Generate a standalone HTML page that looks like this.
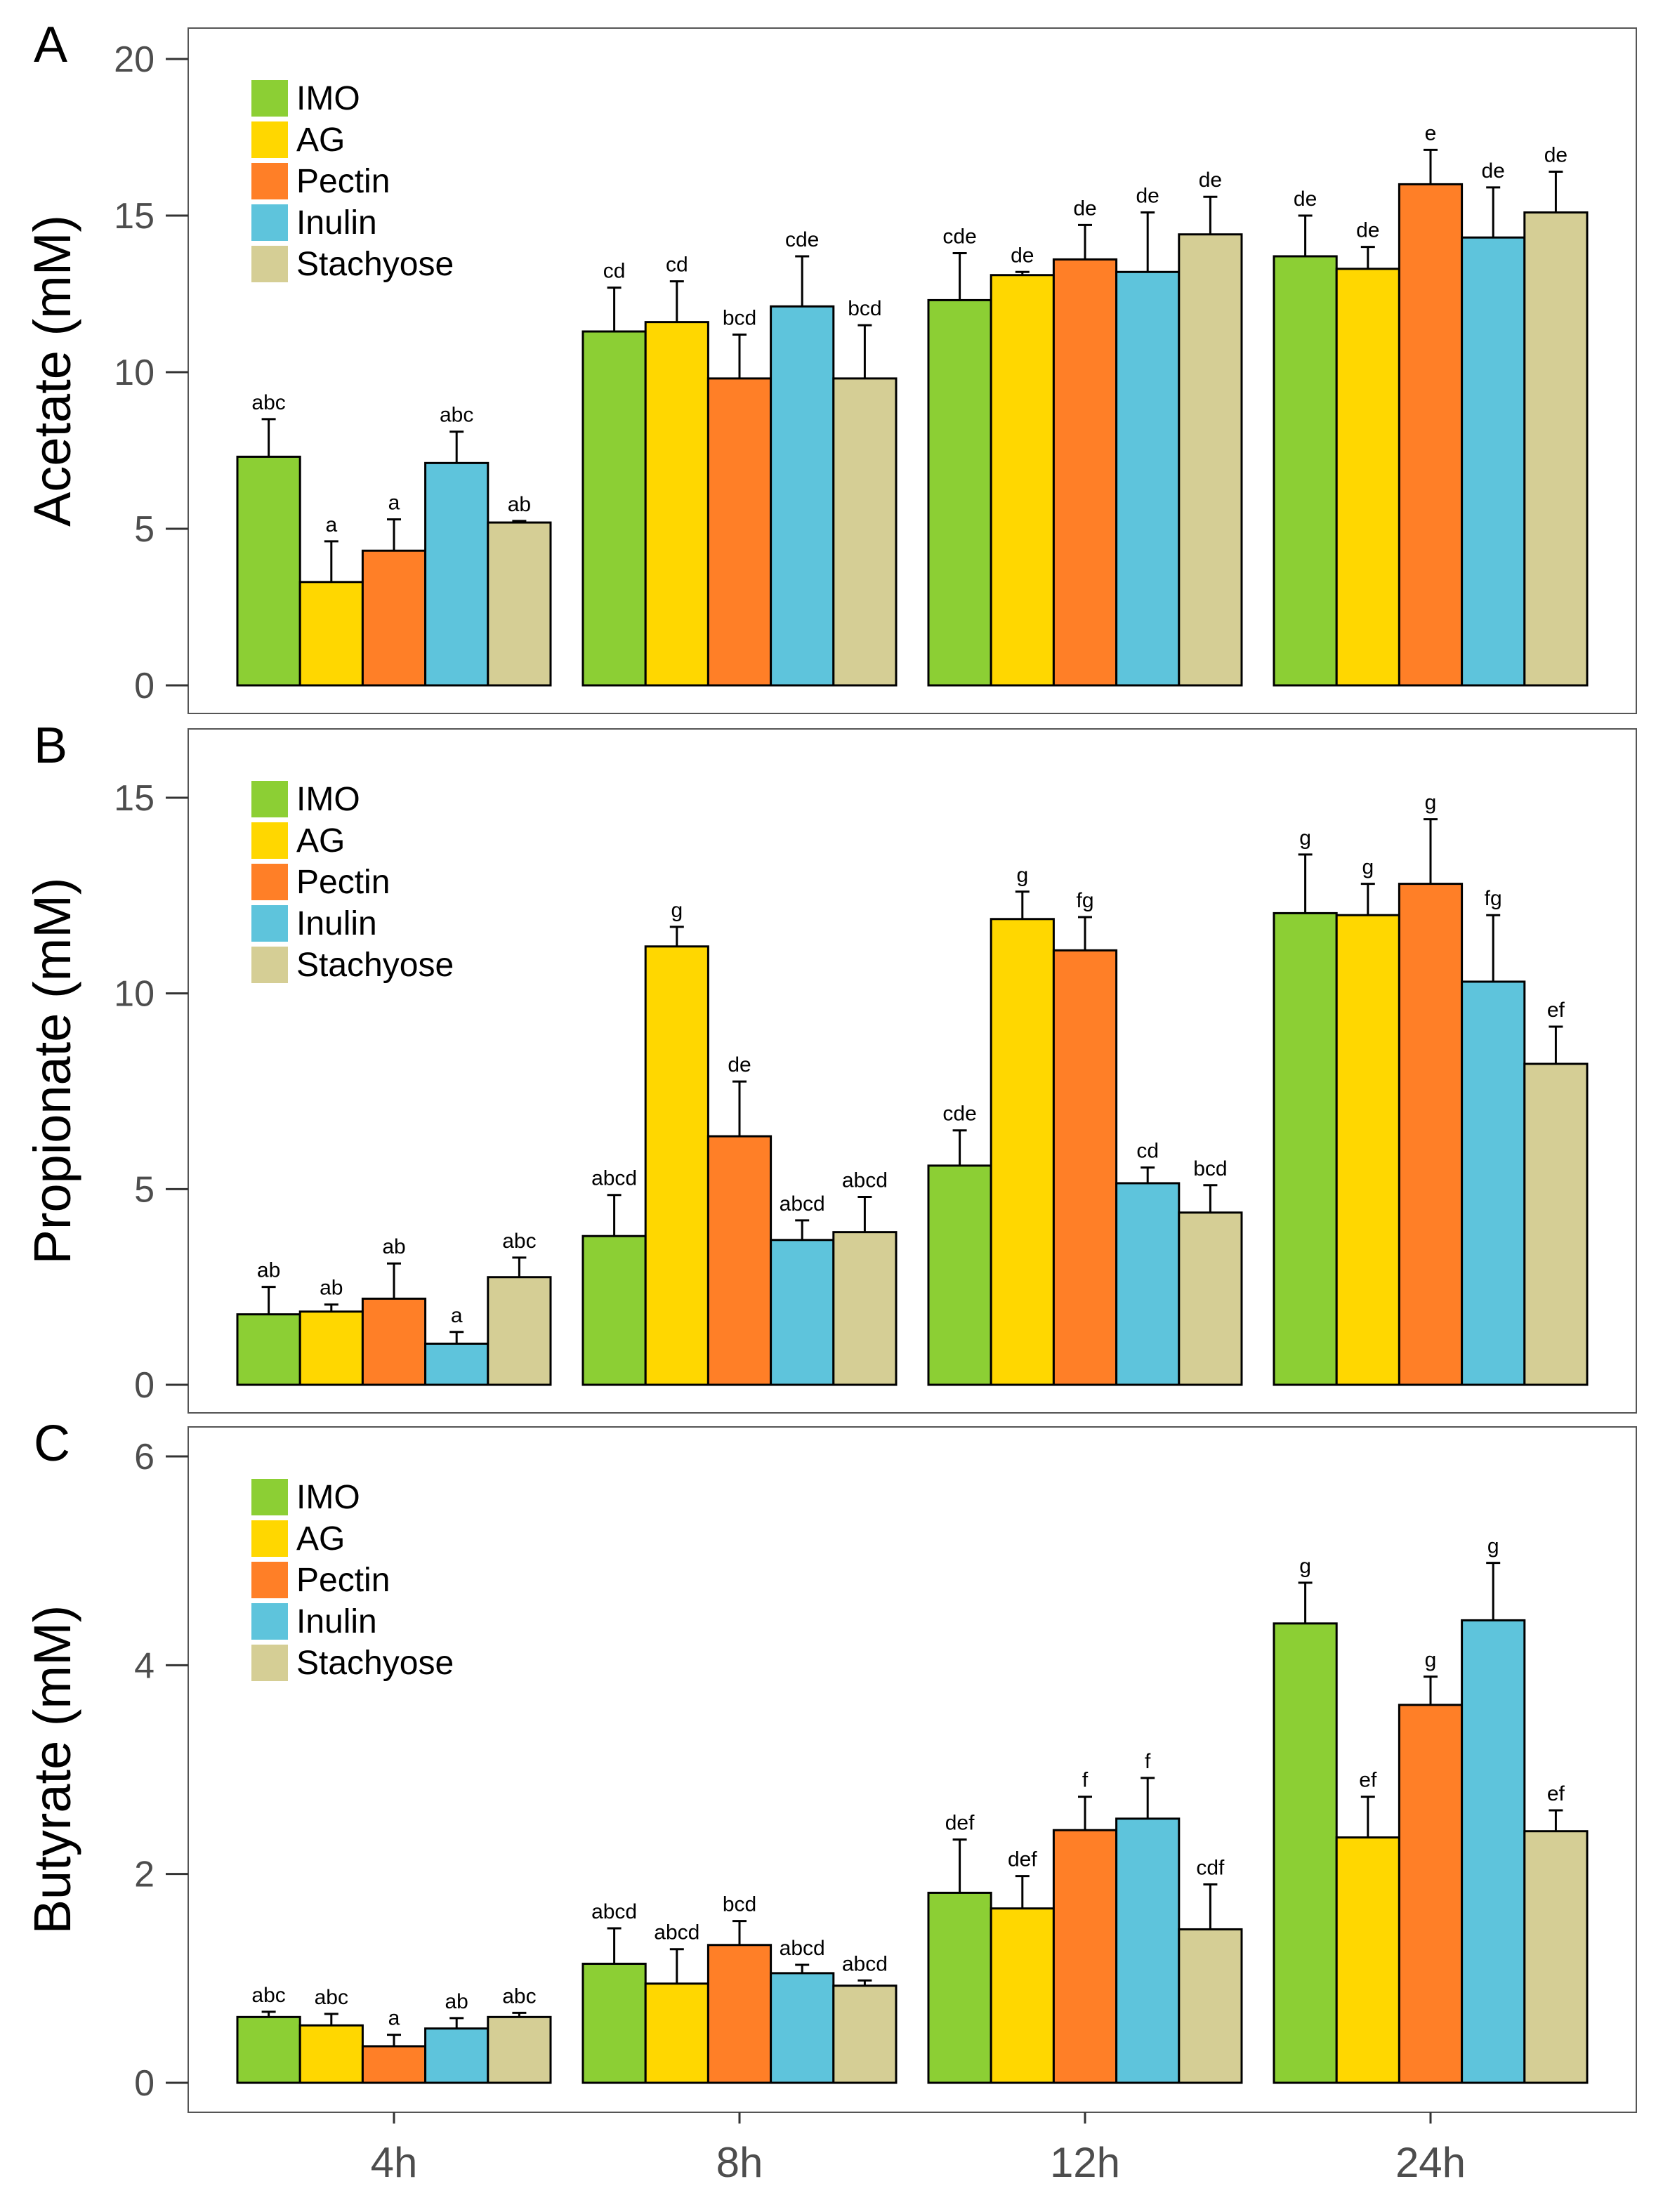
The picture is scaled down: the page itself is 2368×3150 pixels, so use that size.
<!DOCTYPE html>
<html><head><meta charset="utf-8"><style>html,body{margin:0;padding:0;background:#fff}svg{display:block}text{font-family:"Liberation Sans",Arial,sans-serif}</style></head>
<body>
<svg id="chart" width="2368" height="3150" viewBox="0 0 1184 1575" xmlns="http://www.w3.org/2000/svg"></svg>
<script>
const categories = ["4h","8h","12h","24h"];
const seriesNames = ["IMO","AG","Pectin","Inulin","Stachyose"];
const colors = ["#8ccf34","#ffd700","#ff7f27","#5ec4dc","#d5ce95"];
// Acetate
const acetateMean = [[7.3,3.3,4.3,7.1,5.2],[11.3,11.6,9.8,12.1,9.8],[12.3,13.1,13.6,13.2,14.4],[13.7,13.3,16.0,14.3,15.1]];
const acetateErr  = [[8.5,4.6,5.3,8.1,5.25],[12.7,12.9,11.2,13.7,11.5],[13.8,13.2,14.7,15.1,15.6],[15.0,14.0,17.1,15.9,16.4]];
const acetateLetters = [["abc","a","a","abc","ab"],["cd","cd","bcd","cde","bcd"],["cde","de","de","de","de"],["de","de","e","de","de"]];
// Propionate
const propMean = [[1.8,1.87,2.2,1.05,2.75],[3.8,11.2,6.35,3.7,3.9],[5.6,11.9,11.1,5.15,4.4],[12.05,12.0,12.8,10.3,8.2]];
const propErr  = [[2.5,2.05,3.1,1.35,3.25],[4.85,11.7,7.75,4.2,4.8],[6.5,12.6,11.95,5.55,5.1],[13.55,12.8,14.45,12.0,9.15]];
const propLetters = [["ab","ab","ab","a","abc"],["abcd","g","de","abcd","abcd"],["cde","g","fg","cd","bcd"],["g","g","g","fg","ef"]];
// Butyrate
const butMean = [[0.63,0.55,0.35,0.52,0.63],[1.14,0.95,1.32,1.05,0.93],[1.82,1.67,2.42,2.53,1.47],[4.4,2.35,3.62,4.43,2.41]];
const butErr  = [[0.68,0.66,0.46,0.62,0.67],[1.48,1.28,1.55,1.13,0.98],[2.33,1.98,2.74,2.92,1.9],[4.79,2.74,3.89,4.98,2.61]];
const butLetters = [["abc","abc","a","ab","abc"],["abcd","abcd","bcd","abcd","abcd"],["def","def","f","f","cdf"],["g","ef","g","g","ef"]];

const panels = [
 {id:"a",label:"A",title:"Acetate (mM)",mean:acetateMean,err:acetateErr,let:acetateLetters,top:20,bot:508,max:20,y0:488,yMaxPx:42,ticks:[0,5,10,15,20]},
 {id:"b",label:"B",title:"Propionate (mM)",mean:propMean,err:propErr,let:propLetters,top:519,bot:1006,max:15,y0:986,yMaxPx:568,ticks:[0,5,10,15]},
 {id:"c",label:"C",title:"Butyrate (mM)",mean:butMean,err:butErr,let:butLetters,top:1016,bot:1504,max:6,y0:1483,yMaxPx:1037,ticks:[0,2,4,6]}
];
const svg = document.getElementById('chart');
const NS = "http://www.w3.org/2000/svg";
function mk(tag, attrs, parent, txt){const e=document.createElementNS(NS,tag);for(const k in attrs)e.setAttribute(k,attrs[k]);if(txt!==undefined)e.textContent=txt;(parent||svg).appendChild(e);return e;}
const L=134,R=1165,bw=44.6,groupStart=169,groupStep=246;
function xBar(g,s){return groupStart+g*groupStep+s*bw;}
panels.forEach(p=>{
  const g=mk('g',{});
  
  
  const y=v=>p.y0-(v/p.max)*(p.y0-p.yMaxPx);
  const frame=mk('rect',{x:L,y:p.top,width:R-L,height:p.bot-p.top,fill:'none',stroke:'#555','stroke-width':1},g);
  
  
  p.ticks.forEach(t=>{
    mk('line',{x1:118,x2:L,y1:y(t),y2:y(t),stroke:'#333','stroke-width':1.5},g);
    const tl=mk('text',{x:110,y:y(t)+9,'text-anchor':'end','font-size':26,fill:'#4d4d4d'},g,String(t));
    
    
  });
  const yt=mk('text',{transform:`translate(50,${(p.top+p.bot)/2}) rotate(-90)`,'text-anchor':'middle','font-size':37,fill:'#000'},g,p.title);
  
  
  const pl=mk('text',{x:24,y:p.top+24,'font-size':36,fill:'#000'},g,p.label);
  
  
  categories.forEach((c,gi)=>{
    seriesNames.forEach((s,si)=>{
      const x=xBar(gi,si),v=p.mean[gi][si],e=p.err[gi][si],cx=x+bw/2;
      const b=mk('rect',{x:x,y:y(v),width:bw,height:p.y0-y(v),fill:colors[si],stroke:'#000','stroke-width':1.5},g);
      
      
      mk('line',{x1:cx,x2:cx,y1:y(v),y2:y(e),stroke:'#000','stroke-width':1.5},g);
      mk('line',{x1:cx-5,x2:cx+5,y1:y(e),y2:y(e),stroke:'#000','stroke-width':1.5},g);
      const lt=mk('text',{x:cx,y:y(e)-7,'text-anchor':'middle','font-size':15,fill:'#000'},g,p.let[gi][si]);
      
      
    });
  });
  seriesNames.forEach((s,si)=>{
    const ly=p.top+37+si*29.5;
    const sw=mk('rect',{x:179,y:ly,width:26,height:26,fill:colors[si]},g);
    
    
    const lt=mk('text',{x:211,y:ly+21,'font-size':24,fill:'#000'},g,s);
    
    
  });
});
categories.forEach((c,gi)=>{
  const cx=groupStart+gi*groupStep+2.5*bw;
  mk('line',{x1:cx,x2:cx,y1:1504,y2:1512,stroke:'#333','stroke-width':1.5});
  const t=mk('text',{x:cx,y:1550,'text-anchor':'middle','font-size':30,fill:'#4d4d4d'},svg,c);
  
  
});
</script>
</body></html>
